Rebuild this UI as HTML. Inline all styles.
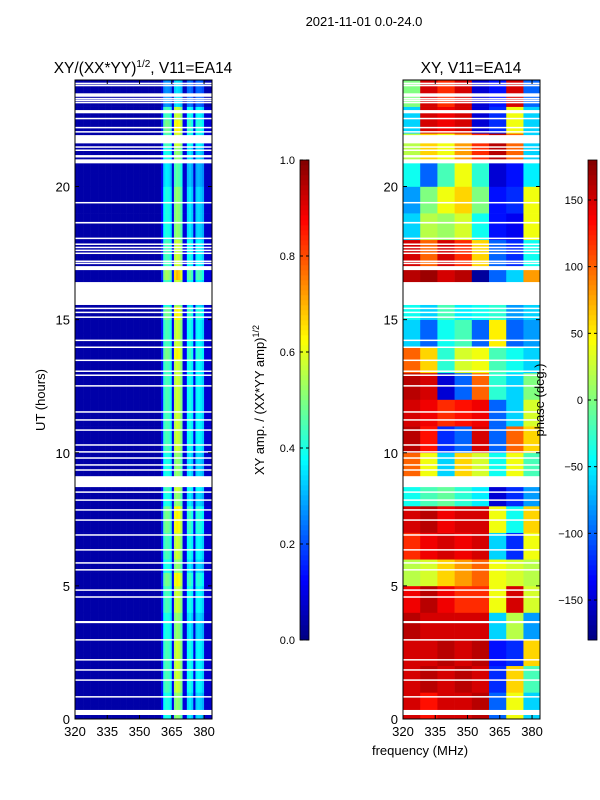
<!DOCTYPE html>
<html><head><meta charset="utf-8">
<style>
body{margin:0;background:#fff;font-family:"Liberation Sans",sans-serif;}
svg{display:block}
text{font-family:"Liberation Sans",sans-serif;fill:#000}
</style></head><body>
<svg id="fig" width="600" height="800" xmlns="http://www.w3.org/2000/svg">
<text x="364" y="26" font-size="13" text-anchor="middle">2021-11-01 0.0-24.0</text>
<text x="143" y="73" font-size="15.5" text-anchor="middle">XY/(XX*YY)<tspan font-size="10" dy="-6">1/2</tspan><tspan dy="6">, V11=EA14</tspan></text>
<text x="471" y="73" font-size="15.5" text-anchor="middle">XY, V11=EA14</text>
<g id="left"></g>
<g id="right"></g>
<g id="axes"></g>
<text transform="translate(45,400) rotate(-90)" font-size="13" text-anchor="middle">UT (hours)</text>
<text x="420" y="755" font-size="13" text-anchor="middle">frequency (MHz)</text>
<text transform="translate(264,400) rotate(-90)" font-size="13" text-anchor="middle">XY amp. / (XX*YY amp)<tspan font-size="9" dy="-5">1/2</tspan></text>
<text transform="translate(544,400) rotate(-90)" font-size="13" text-anchor="middle">phase (deg.)</text>
</svg>
<script>
const freqProfile=[0.04,0.04,0.04,0.04,0.04,0.04,0.04,0.04,0.04,0.04,0.04,0.04,0.04,0.04,0.04,0.04,0.04,0.04,0.04,0.04,0.04,0.04,0.04,0.04,0.04,0.04,0.04,0.04,0.04,0.04,0.04,0.04,0.04,0.04,0.04,0.04,0.04,0.04,0.04,0.04,0.14,0.42,0.45,0.44,0.40,0.12,0.55,0.58,0.56,0.50,0.10,0.10,0.38,0.40,0.36,0.10,0.36,0.38,0.36,0.33,0.08,0.08,0.08,0.08];
const rowScale=[0.9,0.9,1.0,1.0,1.0,1.0,0.9,0.9,1.0,1.0,1.1,0.9,1.0,1.0,1.1,1.1,0.9,1.0,0.9,0.9,1.0,1.0,1.0,1.0,1.0,1.0,1.0,1.1,1.0,1.0,1.1,0.9,1.0,1.2,1.0,1.0,0.9,0.9,0.9,0.9,0.8,0.8,0.9,1.0,1.1,1.0,0.6,0.6];
const phaseRows=[
[150,130,150,150,160,-100,40,-60],[150,160,150,160,150,-120,60,-20],[150,150,160,150,160,-130,-120,60],[160,150,150,150,150,-60,20,-80],
[140,160,140,120,120,40,150,30],[20,30,60,80,100,40,30,20],[120,140,150,140,150,-60,-120,40],[150,160,140,150,150,40,-40,60],
[-40,-20,-10,-30,-50,-150,-120,-80],[100,40,-60,60,30,-40,40,-20],[160,130,-120,-100,150,-100,100,60],[150,140,120,130,140,-100,-60,30],
[160,150,-150,-100,100,-30,-60,0],[100,60,-30,30,40,-20,-40,-60],[-60,-100,-40,-20,-100,50,-100,-80],[-40,-60,-20,-50,-40,-30,-80,-60],
[160,170,150,160,-170,-100,-60,80],[150,100,150,120,60,-100,-120,-40],[-60,20,10,30,-40,-130,-140,40],[-80,0,40,60,0,-130,-120,40],
[-40,-100,-20,40,-30,-150,-130,-50],[20,60,40,80,120,160,100,-60],[-60,150,140,150,-150,-120,40,-60],[0,150,120,150,-150,-130,150,-100]];
const flags=[[23.84,23.90],[23.79,23.82],[23.37,23.50],[23.30,23.33],[23.23,23.26],[23.15,23.18],[22.75,22.87],[22.55,22.58],[22.21,22.24],[22.05,22.08],[21.62,21.93],[21.48,21.51],[21.36,21.39],[21.09,21.18],[20.87,21.02],[19.37,19.42],[18.61,18.67],[18.05,18.08],[17.83,17.86],[17.71,17.74],[17.60,17.63],[17.49,17.52],[17.19,17.22],[17.11,17.14],[16.86,17.01],[15.55,16.41],[15.42,15.45],[15.27,15.30],[15.09,15.12],[14.22,14.25],[13.96,13.99],[13.47,13.50],[13.06,13.09],[12.91,12.94],[12.5,12.54],[11.52,11.56],[11.22,11.26],[10.84,10.88],[10.28,10.32],[10.02,10.06],[9.79,9.83],[9.53,9.57],[9.34,9.38],[8.71,9.12],[8.51,8.55],[8.21,8.25],[7.84,7.88],[7.46,7.50],[6.90,6.94],[6.34,6.38],[5.85,5.89],[5.59,5.63],[4.83,4.87],[4.57,4.61],[3.60,3.68],[2.96,3.00],[2.21,2.25],[1.83,1.87],[1.45,1.49],[0.82,0.86],[0.15,0.34]];
const yTicks=[0,5,10,15,20];
const xTicks=[320,335,350,365,380];
const ampTicks=[0.0,0.2,0.4,0.6,0.8,1.0];
const phaseTicks=[-150,-100,-50,0,50,100,150];

const NS="http://www.w3.org/2000/svg";
function el(tag,attrs,parent){const e=document.createElementNS(NS,tag);for(const k in attrs)e.setAttribute(k,attrs[k]);parent.appendChild(e);return e;}
function jet(v){v=Math.max(0,Math.min(1,v));const f=x=>Math.round(255*Math.max(0,Math.min(1,x)));
return `rgb(${f(1.5-Math.abs(4*v-3))},${f(1.5-Math.abs(4*v-2))},${f(1.5-Math.abs(4*v-1))})`;}
const Y0=719,Y1=80;
const yScale=h=>Y0-(Y0-Y1)*h/24;
const panels=[{x0:75,x1:212},{x0:403,x1:540}];
const fMin=320,fMax=383.7;
const xScale=(p,f)=>p.x0+(p.x1-p.x0)*(f-fMin)/(fMax-fMin);
const left=document.getElementById('left'),right=document.getElementById('right'),axes=document.getElementById('axes');
// left heatmap
for(let r=0;r<rowScale.length;r++){const h0=r*0.5,h1=h0+0.5;
 for(let c=0;c<freqProfile.length;c++){const f0=320+c,f1=f0+1;
  const xa=xScale(panels[0],f0),xb=Math.min(panels[0].x1,xScale(panels[0],f1));if(xb<=xa)continue;
  const v=c<40?freqProfile[c]:freqProfile[c]*rowScale[r];
  const e=el('rect',{x:xa,y:yScale(h1),width:xb-xa+0.3,height:yScale(h0)-yScale(h1)+0.3,fill:jet(v)},left);
  
  }}
// right heatmap
for(let r=0;r<phaseRows.length;r++){for(let c=0;c<phaseRows[r].length;c++){
  const f0=320+8*c,f1=f0+8;const xa=xScale(panels[1],f0),xb=Math.min(panels[1].x1,xScale(panels[1],f1));
  const e=el('rect',{x:xa,y:yScale(r+1),width:xb-xa+0.3,height:yScale(r)-yScale(r+1)+0.3,fill:jet((phaseRows[r][c]+180)/360)},right);
  
  }}
// flags
panels.forEach((p,i)=>{flags.forEach(fl=>{const e=el('rect',{x:p.x0,y:yScale(fl[1]),width:p.x1-p.x0,height:Math.max(1.5,yScale(fl[0])-yScale(fl[1])),fill:'#fff'},i?right:left);
 
 });});
// axes frames & ticks
panels.forEach((p,i)=>{
 const fr=el('rect',{x:p.x0,y:Y1,width:p.x1-p.x0,height:Y0-Y1,fill:'none',stroke:'#000','stroke-width':1},axes);
 
 
 yTicks.forEach(t=>{const y=yScale(t);
  el('line',{x1:p.x0,x2:p.x0+4,y1:y,y2:y,stroke:'#000'},axes);el('line',{x1:p.x1,x2:p.x1-4,y1:y,y2:y,stroke:'#000'},axes);
  const tx=el('text',{x:p.x0-5,y:y+5,'font-size':13,'text-anchor':'end'},axes);tx.textContent=t;
  
  });
 xTicks.forEach(t=>{const x=xScale(p,t);
  el('line',{x1:x,x2:x,y1:Y0,y2:Y0-4,stroke:'#000'},axes);el('line',{x1:x,x2:x,y1:Y1,y2:Y1+4,stroke:'#000'},axes);
  const tx=el('text',{x:x,y:Y0+17,'font-size':13,'text-anchor':'middle'},axes);tx.textContent=t;
  
  });
});
// colorbars
function colorbar(x,name,ticks,tMin,tMax,fmt){const cy0=640,cy1=160;const g=el('g',{},axes);
 
 
 for(let i=0;i<96;i++){const v=i/96;el('rect',{x:x,y:cy0-(i+1)*5,width:9,height:5.3,fill:jet(v+1/192)},g);}
 el('rect',{x:x,y:cy1,width:9,height:cy0-cy1,fill:'none',stroke:'#000','stroke-width':0.8},g);
 ticks.forEach(t=>{const y=cy0-(cy0-cy1)*(t-tMin)/(tMax-tMin);
  el('line',{x1:x,x2:x+3,y1:y,y2:y,stroke:'#000'},g);el('line',{x1:x+9,x2:x+6,y1:y,y2:y,stroke:'#000'},g);
  const tx=el('text',{x:x-5,y:y+4,'font-size':11,'text-anchor':'end'},g);tx.textContent=fmt(t);
  
  });}
colorbar(300,'amp-colorbar',ampTicks,0,1,t=>t.toFixed(1));
colorbar(588,'phase-colorbar',phaseTicks,-180,180,t=>String(t).replace('-','\u2212'));
</script>
</body></html>
